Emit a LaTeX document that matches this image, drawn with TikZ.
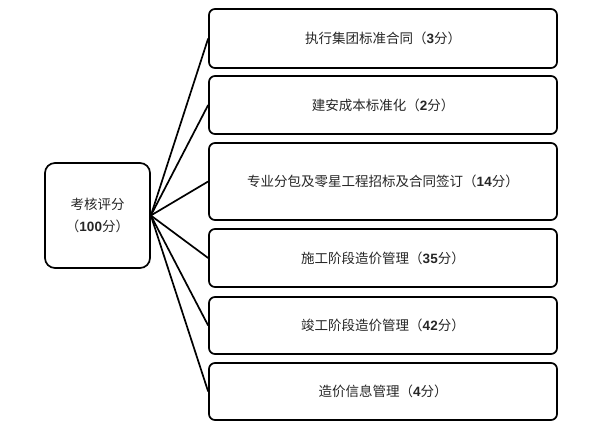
\documentclass[tikz,border=0pt]{standalone}
\usepackage{fontspec}
\setmainfont{Noto Sans CJK SC}
\newfontfamily\numf{Liberation Sans}
\newcommand{\nm}[1]{{\numf\bfseries #1}}
\begin{document}
\begin{tikzpicture}[x=1pt,y=-1pt,
  box/.style={draw=black, line width=1.7pt, rounded corners=6pt, inner sep=0pt, font=\fontsize{13.5}{16}\selectfont, text=black!85},
  link/.style={draw=black, line width=1.7pt}]
\useasboundingbox (0,0) rectangle (615,422);
\node[box, rounded corners=10pt, minimum width=105pt, minimum height=105pt, align=center] (root) at (97.5,215.5) {考核评分\\[6pt]（\nm{100}分）};
\node[box, minimum width=348pt, minimum height=59pt] (b1) at (383,38.5) {执行集团标准合同（\nm{3}分）};
\node[box, minimum width=348pt, minimum height=58pt] (b2) at (383,105) {建安成本标准化（\nm{2}分）};
\node[box, minimum width=348pt, minimum height=77pt] (b3) at (383,181.5) {专业分包及零星工程招标及合同签订（\nm{14}分）};
\node[box, minimum width=348pt, minimum height=58pt] (b4) at (383,258) {施工阶段造价管理（\nm{35}分）};
\node[box, minimum width=348pt, minimum height=57pt] (b5) at (383,325.5) {竣工阶段造价管理（\nm{42}分）};
\node[box, minimum width=348pt, minimum height=57pt] (b6) at (383,391.5) {造价信息管理（\nm{4}分）};
\foreach \b in {b1,b2,b3,b4,b5,b6}
  \draw[link] (root.east) -- (\b.west);
\end{tikzpicture}
\end{document}
